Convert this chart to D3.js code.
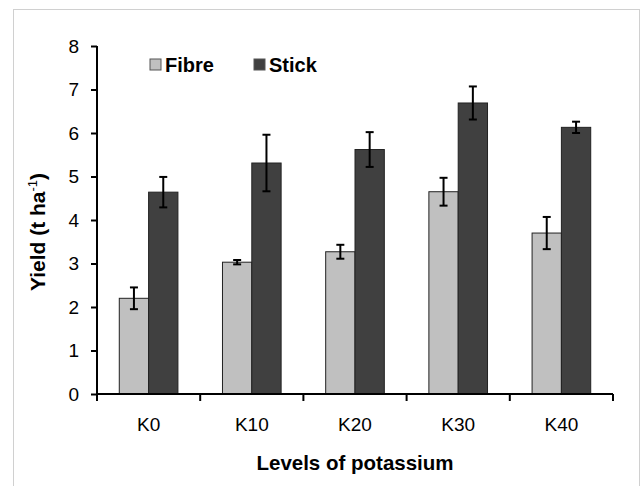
<!DOCTYPE html>
<head>
  <meta charset="utf-8">
  <script src="https://d3js.org/d3.v7.min.js"></script>
  <style>
    body { margin: 0; padding: 0; background: #fff; }
    text { font-family: Arial, "Liberation Sans", sans-serif; }
  </style>
</head>
<body>
  <script>
    // yield per potassium level
    var levels = ['K0', 'K10', 'K20', 'K30', 'K40'],
      series = ['Fibre', 'Stick'],
      fibre = [2.20, 3.03, 3.27, 4.65, 3.70],
      fibreErr = [0.25, 0.05, 0.16, 0.32, 0.37],
      stick = [4.64, 5.31, 5.62, 6.69, 6.13],
      stickErr = [0.35, 0.65, 0.40, 0.38, 0.13],
      yTicks = [0, 1, 2, 3, 4, 5, 6, 7, 8],
      colors = ['#c0c0c0', '#404040'];

    var width = 644, height = 486;
    var margin = { top: 46, right: 31, bottom: 92, left: 97 };

    var svg = d3.select('body').append('svg')
      .attr('width', width)
      .attr('height', height);

    // light frame around the chart
    svg.append('rect')
      .attr('x', 13.5).attr('y', 9.5)
      .attr('width', 626).attr('height', 490)
      .attr('fill', 'none')
      .attr('stroke', '#d0d0d0');

    var x0 = d3.scaleBand().domain(levels).range([margin.left, width - margin.right]);
    var x1 = d3.scaleBand().domain(series).range([0, x0.bandwidth()]).paddingOuter(0.76);
    var y = d3.scaleLinear().domain([0, 8]).range([height - margin.bottom, margin.top]);

    var rows = levels.map(function (k, i) {
      return [
        { level: k, s: 'Fibre', v: fibre[i], e: fibreErr[i] },
        { level: k, s: 'Stick', v: stick[i], e: stickErr[i] }
      ];
    });
    var flat = [].concat.apply([], rows);

    svg.selectAll('rect.bar')
      .data(flat)
      .enter().append('rect')
      .attr('class', 'bar')
      .attr('x', function (d) { return x0(d.level) + x1(d.s); })
      .attr('y', function (d) { return y(d.v); })
      .attr('width', x1.bandwidth())
      .attr('height', function (d) { return y(0) - y(d.v); })
      .attr('fill', function (d) { return colors[series.indexOf(d.s)]; })
      .attr('stroke', '#222')
      .attr('stroke-width', 1);

    // error bars
    var eb = svg.selectAll('g.err')
      .data(flat)
      .enter().append('g')
      .attr('class', 'err')
      .attr('stroke', '#000')
      .attr('stroke-width', 2);
    function cx(d) { return x0(d.level) + x1(d.s) + x1.bandwidth() / 2; }
    eb.append('line')
      .attr('x1', cx).attr('x2', cx)
      .attr('y1', function (d) { return y(d.v + d.e); })
      .attr('y2', function (d) { return y(d.v - d.e); });
    eb.append('line')
      .attr('x1', function (d) { return cx(d) - 4; })
      .attr('x2', function (d) { return cx(d) + 4; })
      .attr('y1', function (d) { return y(d.v + d.e); })
      .attr('y2', function (d) { return y(d.v + d.e); });
    eb.append('line')
      .attr('x1', function (d) { return cx(d) - 4; })
      .attr('x2', function (d) { return cx(d) + 4; })
      .attr('y1', function (d) { return y(d.v - d.e); })
      .attr('y2', function (d) { return y(d.v - d.e); });

    // y axis
    var yAxis = svg.append('g')
      .attr('transform', 'translate(' + margin.left + ',0)')
      .call(d3.axisLeft(y).tickValues(yTicks).tickSize(6).tickPadding(12).tickFormat(d3.format('d')));
    yAxis.selectAll('path, line').attr('stroke', '#000').attr('stroke-width', 2);
    yAxis.select('.domain').attr('d', 'M0,' + y(8) + 'V' + y(0));
    yAxis.selectAll('text').attr('font-size', 19).attr('fill', '#000');

    // x axis: labels at centres, ticks at category boundaries
    var xAxis = svg.append('g')
      .attr('transform', 'translate(0,' + y(0) + ')')
      .call(d3.axisBottom(x0).tickSize(0).tickPadding(24));
    xAxis.select('.domain').attr('stroke', '#000').attr('stroke-width', 2)
      .attr('d', 'M' + x0.range()[0] + ',0H' + x0.range()[1]);
    xAxis.selectAll('text').attr('font-size', 19).attr('fill', '#000');
    var bounds = levels.map(function (k) { return x0(k); }).concat([x0.range()[1]]);
    xAxis.selectAll('line.bound')
      .data(bounds)
      .enter().append('line')
      .attr('class', 'bound')
      .attr('x1', function (d) { return d; }).attr('x2', function (d) { return d; })
      .attr('y1', 0).attr('y2', 7)
      .attr('stroke', '#000').attr('stroke-width', 2);

    // axis titles
    svg.append('text')
      .attr('x', (x0.range()[0] + x0.range()[1]) / 2)
      .attr('y', 470)
      .attr('text-anchor', 'middle')
      .attr('font-size', 20.5)
      .attr('font-weight', 'bold')
      .text('Levels of potassium');

    var yt = svg.append('text')
      .attr('transform', 'translate(45,232) rotate(-90)')
      .attr('text-anchor', 'middle')
      .attr('font-size', 21)
      .attr('font-weight', 'bold');
    yt.append('tspan').text('Yield (t ha');
    yt.append('tspan').attr('dy', -8).attr('font-size', 13).attr('font-weight', 'normal').text('-1');
    yt.append('tspan').attr('dy', 8).text(')');

    // legend
    var legX = [150, 254];
    var leg = svg.selectAll('g.leg')
      .data(series)
      .enter().append('g')
      .attr('class', 'leg')
      .attr('transform', function (d, i) { return 'translate(' + legX[i] + ',59)'; });
    leg.append('rect')
      .attr('width', 11).attr('height', 11)
      .attr('fill', function (d, i) { return colors[i]; })
      .attr('stroke', '#555');
    leg.append('text')
      .attr('x', 15).attr('y', 12.5)
      .attr('font-size', 20)
      .attr('font-weight', 'bold')
      .text(function (d) { return d; });
  </script>
</body>
